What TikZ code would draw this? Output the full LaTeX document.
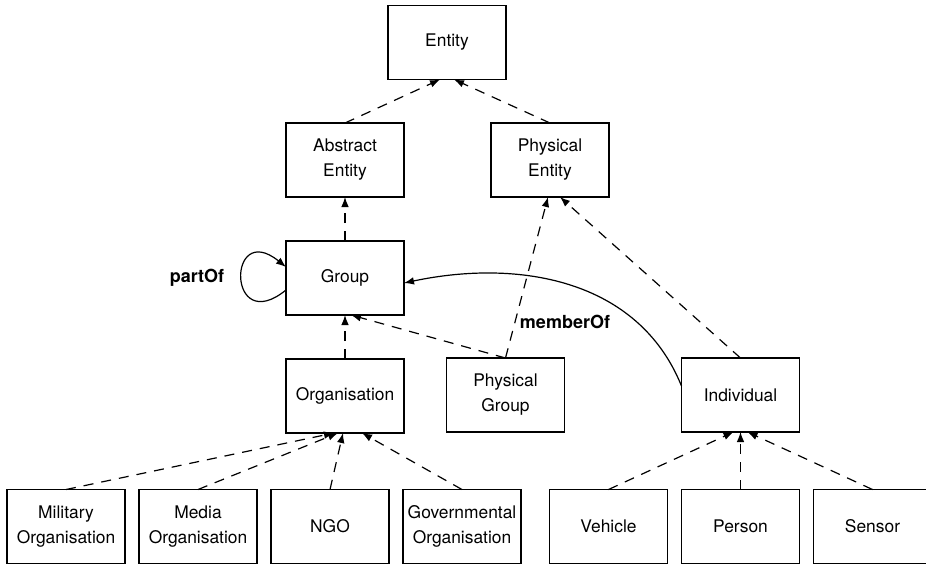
\documentclass[tikz,border=0pt]{standalone}
\usepackage{fontspec}
\setmainfont{TeX Gyre Heros}
\usepackage{tikz}
\usetikzlibrary{arrows.meta,positioning}

\begin{document}
\begin{tikzpicture}[
  x=0.5pt, y=0.5pt,
  font=\fontsize{8.7}{12.5}\selectfont, node distance=22pt and 7pt,
  cls/.style={draw, line width=0.65pt, minimum width=59pt, minimum height=37pt,
    inner sep=1pt, outer sep=0pt, align=center},
  isa/.style={line width=0.6pt, dash pattern=on 5pt off 4pt, -{Latex[length=5pt,width=3.8pt]}},
  rel/.style={line width=0.6pt, -{Latex[length=5pt,width=3.8pt]}},
  lbl/.style={font=\fontsize{9}{11}\selectfont\bfseries}
]
\useasboundingbox (0,0) rectangle (926,-564);

% upper hierarchy
\node[cls] (ent) at (447,-42.5) {Entity};
\node[cls] (ae) at (345,-160) {Abstract\\Entity};
\node[cls] (pe) at (550,-160) {Physical\\Entity};
\node[cls, below=of ae] (grp) {Group};
\node[cls, below=of grp] (org) {Organisation};
\node[cls] (pg) at (505.5,-395) {Physical\\Group};
\node[cls] (ind) at (740.5,-395) {Individual};

% bottom row
\node[cls] (mil) at (66,-526.5) {Military\\Organisation};
\node[cls, right=of mil] (med) {Media\\Organisation};
\node[cls, right=of med] (ngo) {NGO};
\node[cls, right=of ngo] (gov) {Governmental\\Organisation};
\node[cls] (veh) at (608.5,-526.5) {Vehicle};
\node[cls, right=of veh] (per) {Person};
\node[cls, right=of per] (sen) {Sensor};

\draw[isa] (ae.north) -- ([xshift=-3.5pt]ent.south);
\draw[isa] (pe.north) -- ([xshift=3.5pt]ent.south);
\draw[isa] (grp.north) -- (ae.south);
\draw[isa] (org.north) -- (grp.south);
\draw[isa] (pg.north) -- ([xshift=3pt]grp.south);
\draw[isa] (pg.north) -- ([xshift=-1pt]pe.south);
\draw[isa] (ind.north) -- ([xshift=5pt]pe.south);
\draw[isa] (mil.north) -- ([xshift=-5.5pt]org.south);
\draw[isa] (med.north) -- ([xshift=-3.5pt]org.south);
\draw[isa] (ngo.north) -- ([xshift=-1pt]org.south);
\draw[isa] (gov.north) -- ([xshift=8.5pt]org.south);
\draw[isa] (veh.north) -- ([xshift=-3.5pt]ind.south);
\draw[isa] (per.north) -- (ind.south);
\draw[isa] (sen.north) -- ([xshift=3.5pt]ind.south);

% relations
\draw[rel] ([yshift=-6pt]grp.west) to[out=219, in=141, looseness=8.5] ([yshift=5.5pt]grp.west);
\node[lbl] (partof) at (197,-278) {partOf};
\draw[rel] ([yshift=4.5pt]ind.west) to[out=112, in=12] ([yshift=-2.5pt]grp.east);
\node[lbl] (memberof) at (565,-322) {memberOf};
\end{tikzpicture}
\end{document}
